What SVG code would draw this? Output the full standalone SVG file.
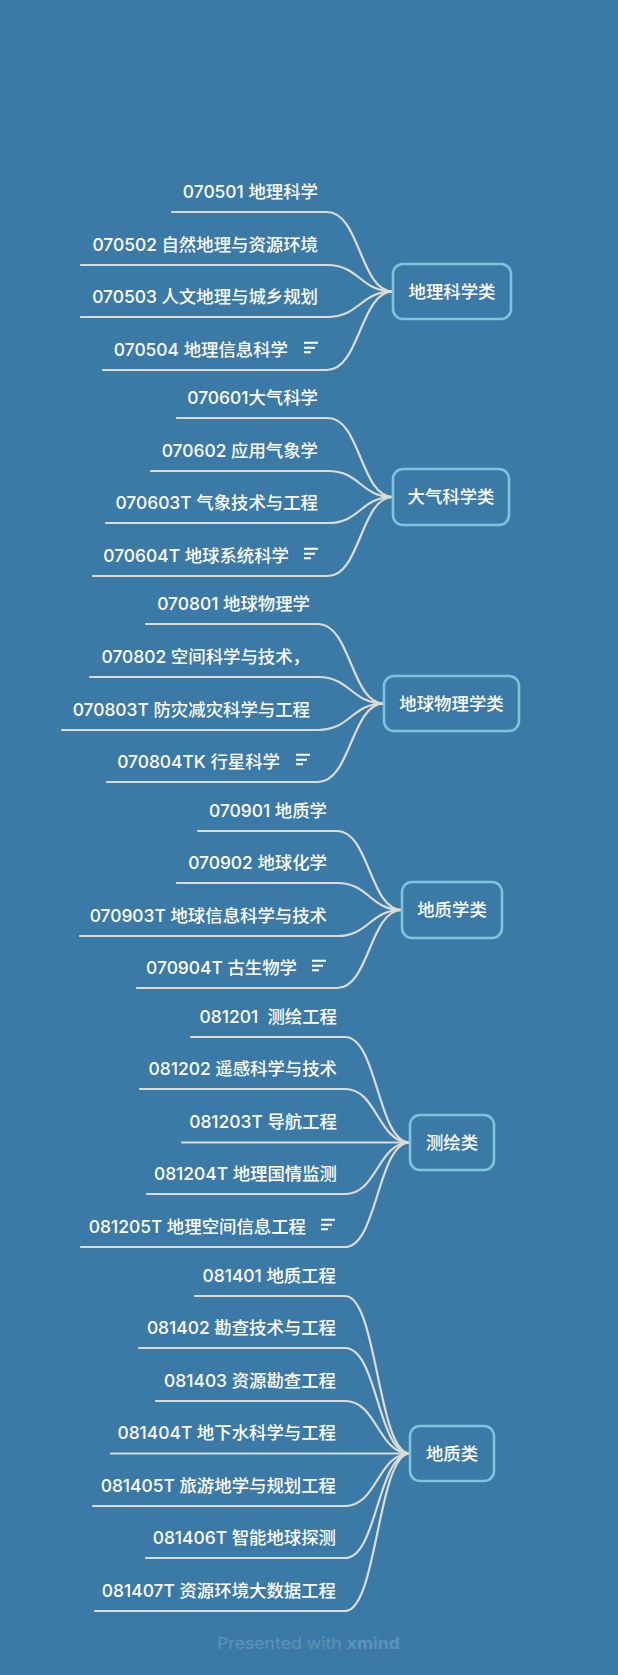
<svg xmlns="http://www.w3.org/2000/svg" width="618" height="1675" viewBox="0 0 618 1675">
<style>
.bg{fill:#3b7aa6}
.box{fill:#3b7aa6;stroke:#7ec3db;stroke-width:2.6}
.ln{fill:none;stroke:#dcdcd5;stroke-width:2.2;stroke-linecap:round}
.ic{fill:none;stroke:#ffffff;stroke-width:2}
.t{font-family:Inter,"Noto Sans CJK SC",sans-serif;font-size:17.4px;font-weight:500;fill:#ffffff;text-anchor:end}
.bt{font-family:"Noto Sans CJK SC",Inter,sans-serif;font-size:17.4px;font-weight:500;fill:#ffffff;text-anchor:middle}
.ft{font-family:Inter,"Noto Sans",sans-serif;font-size:16px;fill:#5b93bb}
</style>
<defs>
<g id="icon"><path class="ic" d="M-14,-27.3h14M-14,-22.3h11M-14,-17.8h7"/></g>
</defs>
<rect class="bg" x="0" y="0" width="618" height="1675"/>

<g id="connectors">
<path class="ln" d="M172,212H327C360,212 360,291.5 393,291.5"/>
<path class="ln" d="M81,265H327C360,265 360,291.5 393,291.5"/>
<path class="ln" d="M81,317H327C360,317 360,291.5 393,291.5"/>
<path class="ln" d="M103,370H327C360,370 360,291.5 393,291.5"/>
<path class="ln" d="M177,418H328C360.5,418 360.5,497 393,497"/>
<path class="ln" d="M151,471H328C360.5,471 360.5,497 393,497"/>
<path class="ln" d="M106,523H328C360.5,523 360.5,497 393,497"/>
<path class="ln" d="M93,576H328C360.5,576 360.5,497 393,497"/>
<path class="ln" d="M146,624H318C351,624 351,703.5 384,703.5"/>
<path class="ln" d="M90,677H318C351,677 351,703.5 384,703.5"/>
<path class="ln" d="M62,730H318C351,730 351,703.5 384,703.5"/>
<path class="ln" d="M107,782H318C351,782 351,703.5 384,703.5"/>
<path class="ln" d="M198,831H337C369.5,831 369.5,910 402,910"/>
<path class="ln" d="M177,883H337C369.5,883 369.5,910 402,910"/>
<path class="ln" d="M80,936H337C369.5,936 369.5,910 402,910"/>
<path class="ln" d="M137,988H337C369.5,988 369.5,910 402,910"/>
<path class="ln" d="M191,1037H345C377.5,1037 377.5,1142.5 410,1142.5"/>
<path class="ln" d="M140,1089H345C377.5,1089 377.5,1142.5 410,1142.5"/>
<path class="ln" d="M182,1142.5H410"/>
<path class="ln" d="M147,1194H345C377.5,1194 377.5,1142.5 410,1142.5"/>
<path class="ln" d="M81,1247H345C377.5,1247 377.5,1142.5 410,1142.5"/>
<path class="ln" d="M195,1296H345C377.5,1296 377.5,1453.5 410,1453.5"/>
<path class="ln" d="M139,1348H345C377.5,1348 377.5,1453.5 410,1453.5"/>
<path class="ln" d="M156,1401H345C377.5,1401 377.5,1453.5 410,1453.5"/>
<path class="ln" d="M111,1453.5H410"/>
<path class="ln" d="M93,1506H345C377.5,1506 377.5,1453.5 410,1453.5"/>
<path class="ln" d="M146,1558H345C377.5,1558 377.5,1453.5 410,1453.5"/>
<path class="ln" d="M95,1611H345C377.5,1611 377.5,1453.5 410,1453.5"/>
</g>

<g id="n-dlkxl">
<rect class="box" x="393" y="264" width="118" height="55" rx="10"/>
<text class="bt" x="452" y="297.5">地理科学类</text>
</g>
<g id="n-070501"><text class="t" x="318" y="198">070501 地理科学</text></g>
<g id="n-070502"><text class="t" x="318" y="251">070502 自然地理与资源环境</text></g>
<g id="n-070503"><text class="t" x="318" y="303">070503 人文地理与城乡规划</text></g>
<g id="n-070504"><text class="t" x="288" y="356">070504 地理信息科学</text><use href="#icon" x="318" y="370"/></g>

<g id="n-dqkxl">
<rect class="box" x="393" y="469" width="116" height="56" rx="10"/>
<text class="bt" x="451" y="503">大气科学类</text>
</g>
<g id="n-070601"><text class="t" x="318" y="404">070601大气科学</text></g>
<g id="n-070602"><text class="t" x="318" y="457">070602 应用气象学</text></g>
<g id="n-070603T"><text class="t" x="318" y="509">070603T 气象技术与工程</text></g>
<g id="n-070604T"><text class="t" x="289" y="562">070604T 地球系统科学</text><use href="#icon" x="318" y="576"/></g>

<g id="n-dqwlxl">
<rect class="box" x="384" y="676" width="135" height="55" rx="10"/>
<text class="bt" x="451.5" y="709.5">地球物理学类</text>
</g>
<g id="n-070801"><text class="t" x="310" y="610">070801 地球物理学</text></g>
<g id="n-070802"><text class="t" x="310" y="663">070802 空间科学与技术，</text></g>
<g id="n-070803T"><text class="t" x="310" y="716">070803T 防灾减灾科学与工程</text></g>
<g id="n-070804TK"><text class="t" x="280" y="768">070804TK 行星科学</text><use href="#icon" x="310" y="782"/></g>

<g id="n-dzxl">
<rect class="box" x="402" y="882" width="100" height="56" rx="10"/>
<text class="bt" x="452" y="916">地质学类</text>
</g>
<g id="n-070901"><text class="t" x="327" y="817">070901 地质学</text></g>
<g id="n-070902"><text class="t" x="327" y="869">070902 地球化学</text></g>
<g id="n-070903T"><text class="t" x="327" y="922">070903T 地球信息科学与技术</text></g>
<g id="n-070904T"><text class="t" x="297" y="974">070904T 古生物学</text><use href="#icon" x="326" y="988"/></g>

<g id="n-chl">
<rect class="box" x="410" y="1115" width="84" height="55" rx="10"/>
<text class="bt" x="452" y="1148.5">测绘类</text>
</g>
<g id="n-081201"><text class="t" x="337" y="1023" xml:space="preserve">081201  测绘工程</text></g>
<g id="n-081202"><text class="t" x="337" y="1075">081202 遥感科学与技术</text></g>
<g id="n-081203T"><text class="t" x="337" y="1128">081203T 导航工程</text></g>
<g id="n-081204T"><text class="t" x="337" y="1180">081204T 地理国情监测</text></g>
<g id="n-081205T"><text class="t" x="306" y="1233">081205T 地理空间信息工程</text><use href="#icon" x="335" y="1247"/></g>

<g id="n-dzl">
<rect class="box" x="410" y="1426" width="84" height="55" rx="10"/>
<text class="bt" x="452" y="1459.5">地质类</text>
</g>
<g id="n-081401"><text class="t" x="336" y="1282">081401 地质工程</text></g>
<g id="n-081402"><text class="t" x="336" y="1334">081402 勘查技术与工程</text></g>
<g id="n-081403"><text class="t" x="336" y="1387">081403 资源勘查工程</text></g>
<g id="n-081404T"><text class="t" x="336" y="1439">081404T 地下水科学与工程</text></g>
<g id="n-081405T"><text class="t" x="336" y="1492">081405T 旅游地学与规划工程</text></g>
<g id="n-081406T"><text class="t" x="336" y="1544">081406T 智能地球探测</text></g>
<g id="n-081407T"><text class="t" x="336" y="1597">081407T 资源环境大数据工程</text></g>

<text class="ft" x="217" y="1649" textLength="183" lengthAdjust="spacingAndGlyphs">Presented with <tspan font-weight="bold">xmind</tspan></text>
</svg>
